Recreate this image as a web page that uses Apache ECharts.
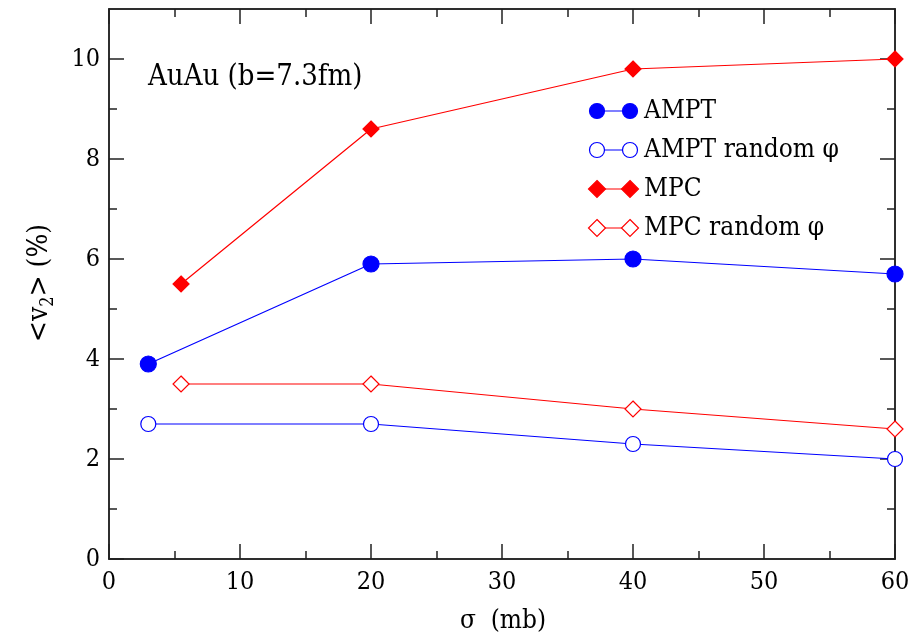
<!DOCTYPE html>
<html><head><meta charset="utf-8">
<script src="https://cdn.jsdelivr.net/npm/echarts@6/dist/echarts.min.js"></script>
<style>html,body{margin:0;padding:0;background:#fff}#c{width:913px;height:638px}</style>
</head><body><div id="c"></div>
<script>
const ampt = [[3, 3.9], [20, 5.9], [40, 6.0], [60, 5.7]];
const amptRandom = [[3, 2.7], [20, 2.7], [40, 2.3], [60, 2.0]];
const mpc = [[5.5, 5.5], [20, 8.6], [40, 9.8], [60, 10.0]];
const mpcRandom = [[5.5, 3.5], [20, 3.5], [40, 3.0], [60, 2.6]];
const xMajor = [0, 10, 20, 30, 40, 50, 60];
const xMinor = [5, 15, 25, 35, 45, 55];
const yMajor = [0, 2, 4, 6, 8, 10];
const yMinor = [1, 3, 5, 7, 9];
const legendNames = ['AMPT', 'AMPT random φ', 'MPC', 'MPC random φ'];

const FONT = '"DejaVu Serif Condensed", "DejaVu Serif"';
const BLUE = '#0000ff', RED = '#ff0000';
const chart = echarts.init(document.getElementById('c'));

function axis(dim, pos, ticks, len, labels) {
  return {
    type: 'value', position: pos,
    min: 0, max: dim === 'x' ? 60 : 11,
    axisLine: {show: true, onZero: false, lineStyle: {color: '#222', width: 1.5}},
    splitLine: {show: false},
    axisTick: {show: true, inside: true, length: len, customValues: ticks, lineStyle: {color: '#222', width: 1.5}},
    axisLabel: {show: !!labels, customValues: ticks, fontFamily: FONT, fontSize: 25, color: '#000', margin: dim === 'x' ? 11 : 9}
  };
}

const symStyle = (color, filled) => ({color: filled ? color : '#fff', borderColor: color, borderWidth: 1.2});

chart.setOption({
  animation: false,
  grid: {left: 109, right: 18, top: 9, bottom: 79},
  xAxis: [
    axis('x', 'bottom', xMajor, 15, true),
    axis('x', 'bottom', xMinor, 8, false),
    axis('x', 'top', xMajor, 15, false),
    axis('x', 'top', xMinor, 8, false)
  ],
  yAxis: [
    axis('y', 'left', yMajor, 15, true),
    axis('y', 'left', yMinor, 8, false),
    axis('y', 'right', yMajor, 15, false),
    axis('y', 'right', yMinor, 8, false)
  ],
  series: [
    {name: legendNames[0], type: 'line', data: ampt, symbol: 'circle', symbolSize: 16,
     lineStyle: {color: BLUE, width: 1.2}, itemStyle: symStyle(BLUE, true)},
    {name: legendNames[1], type: 'line', data: amptRandom, symbol: 'circle', symbolSize: 15,
     lineStyle: {color: BLUE, width: 1.2}, itemStyle: symStyle(BLUE, false)},
    {name: legendNames[2], type: 'line', data: mpc, symbol: 'diamond', symbolSize: 16,
     lineStyle: {color: RED, width: 1.2}, itemStyle: symStyle(RED, true)},
    {name: legendNames[3], type: 'line', data: mpcRandom, symbol: 'diamond', symbolSize: 16,
     lineStyle: {color: RED, width: 1.2}, itemStyle: symStyle(RED, false)}
  ],
  graphic: (function () {
    const g = [];
    const rows = [111, 150, 189, 228];
    const colors = [BLUE, BLUE, RED, RED];
    const filled = [true, false, true, false];
    rows.forEach((y, i) => {
      g.push({type: 'line', shape: {x1: 597, y1: y, x2: 630, y2: y}, style: {stroke: colors[i], lineWidth: 1.2}});
      [597, 630].forEach(x => {
        if (i < 2) {
          g.push({type: 'circle', shape: {cx: x, cy: y, r: 7.5}, style: {fill: filled[i] ? colors[i] : '#fff', stroke: colors[i], lineWidth: 1.2}});
        } else {
          g.push({type: 'polygon', shape: {points: [[x, y - 8.5], [x + 8.5, y], [x, y + 8.5], [x - 8.5, y]]}, style: {fill: filled[i] ? colors[i] : '#fff', stroke: colors[i], lineWidth: 1.2}});
        }
      });
      g.push({type: 'text', x: 644, y: y, style: {text: legendNames[i], font: '26px ' + FONT, fill: '#000', textVerticalAlign: 'middle'}});
    });
    g.push({type: 'text', x: 148, y: 77, style: {text: 'AuAu (b=7.3fm)', font: '29px ' + FONT, fill: '#000', textVerticalAlign: 'middle'}});
    g.push({type: 'text', x: 503, y: 621, style: {text: 'σ  (mb)', font: '26px ' + FONT, fill: '#000', textAlign: 'center', textVerticalAlign: 'middle'}});
    g.push({type: 'text', x: 40, y: 283, rotation: Math.PI / 2,
      style: {text: '<v{s|2}> (%)', font: '28px ' + FONT, fill: '#000', textAlign: 'center', textVerticalAlign: 'middle',
        rich: {s: {fontSize: 18, fontFamily: FONT, padding: [16, 0, 0, 0]}}}});
    return g;
  })()
});
</script></body></html>
